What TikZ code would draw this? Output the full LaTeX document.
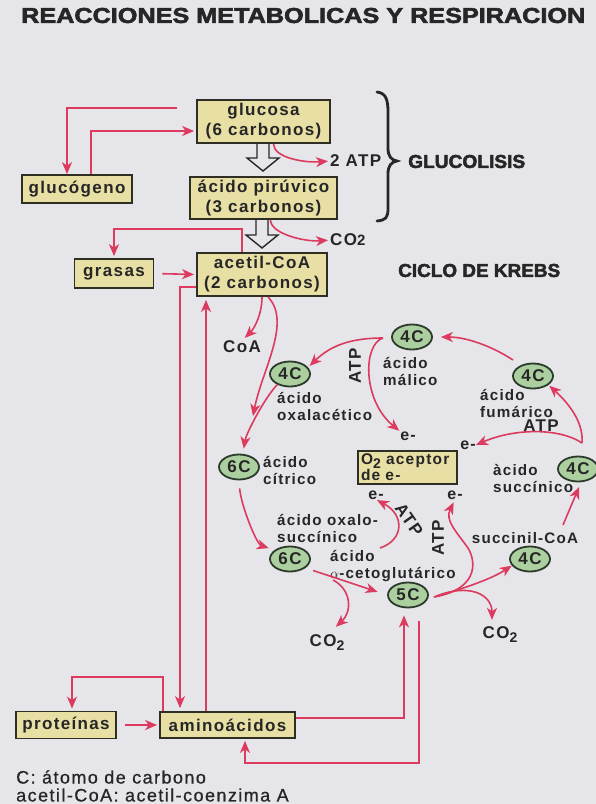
\documentclass[tikz,border=0pt]{standalone}
\usepackage{fontspec}
\setmainfont{Liberation Sans}
\newfontfamily\lab[LetterSpace=8]{Liberation Sans}
\newfontfamily\legendfont[LetterSpace=8,FakeBold=0.8]{Liberation Sans}
\newfontfamily\heavy[UprightFont={* Bold},FakeBold=2.5]{Liberation Sans}
\usetikzlibrary{shapes.geometric,arrows.meta,calc}
\definecolor{paper}{HTML}{E6E6EA}
\definecolor{ink}{HTML}{262626}
\definecolor{boxfill}{HTML}{E7DFA4}
\definecolor{boxline}{HTML}{2E2E24}
\definecolor{cellfill}{HTML}{ACCFA0}
\definecolor{cellline}{HTML}{2C3A2C}
\definecolor{flowred}{HTML}{DC3A5F}
\begin{document}
\begin{tikzpicture}[x=1pt,y=-1pt,
  box/.style={draw=boxline,line width=1.8pt,fill=boxfill,inner sep=0pt,text=ink,align=center,
    font=\lab\bfseries\fontsize{17}{20}\selectfont},
  cell/.style={ellipse,draw=cellline,line width=1.8pt,fill=cellfill,inner sep=0pt,
    minimum width=40pt,minimum height=25pt,text=ink,font=\lab\bfseries\fontsize{17}{17}\selectfont},
  lbl/.style={anchor=west,inner sep=0pt,align=left,text=ink,font=\lab\bfseries\fontsize{15.2}{17}\selectfont},
  txt/.style={inner sep=0pt,text=ink,font=\lab\bfseries\fontsize{17}{17}\selectfont},
  elec/.style={inner sep=0pt,text=ink,font=\lab\bfseries\fontsize{16}{16}\selectfont},
  heading/.style={inner sep=0pt,anchor=west,text=ink},
  legend/.style={inner sep=0pt,anchor=west,text=ink,font=\legendfont\fontsize{18}{19}\selectfont},
  flow/.style={draw=flowred,line width=1.6pt,-{Stealth[length=12pt,width=10pt,inset=3.5pt]}},
  hollow/.style={draw=ink,line width=1.4pt,fill=paper,line join=miter},
  brace/.style={draw=ink,line width=2.8pt,line cap=round},
]
\useasboundingbox (0,0) rectangle (596,804);
\fill[paper] (0,0) rectangle (596,804);

% hollow arrows of glycolysis (drawn first, the boxes cover their open ends)
\draw[hollow] (257,143) -- (257,158) -- (247,158) -- (263,171) -- (279,158) -- (269,158) -- (269,143);
\draw[hollow] (256,219) -- (256,235) -- (246,235) -- (262,248) -- (278,235) -- (268,235) -- (268,219);

% headings
\node[heading] (titulo) at (21,15.5) {\resizebox{564pt}{15pt}{\heavy REACCIONES METABOLICAS Y RESPIRACION}};
\node[heading] (glucolisis) at (408,161.5) {\resizebox{117pt}{13pt}{\heavy GLUCOLISIS}};
\node[heading] (krebs) at (398,270.5) {\resizebox{162pt}{13pt}{\heavy CICLO DE KREBS}};

% boxes
\node[box,minimum width=133pt,minimum height=43pt] (glucosa) at (263.5,121.5) {glucosa\\(6 carbonos)};
\node[box,minimum width=110pt,minimum height=28pt] (glucogeno) at (77,189) {glucógeno};
\node[box,minimum width=147pt,minimum height=42pt] (piruvico) at (263.5,198) {ácido pirúvico\\(3 carbonos)};
\node[box,minimum width=79pt,minimum height=29pt] (grasas) at (114,273.5) {grasas};
\node[box,minimum width=130pt,minimum height=43pt] (acetil) at (262,274.5) {acetil-CoA\\(2 carbonos)};
\node[box,minimum width=99pt,minimum height=33pt,text width=97pt,align=left,
  font=\lab\bfseries\fontsize{15.5}{14}\selectfont] (oxigeno) at (407.5,467.5)
  {\hspace*{2pt}O\raisebox{-4pt}{\fontsize{14}{14}\selectfont 2} aceptor\\\hspace*{2pt}de e-};
\node[box,minimum width=100pt,minimum height=27pt] (proteinas) at (66,725) {proteínas};
\node[box,minimum width=135pt,minimum height=26pt] (aminoacidos) at (227.5,725) {aminoácidos};

% carbon counts of the cycle
\node[cell] (oxal) at (290,374) {4C};
\node[cell] (malico) at (412,337) {4C};
\node[cell] (fumarico) at (533,376) {4C};
\node[cell] (succinico) at (578,469) {4C};
\node[cell] (succinil) at (530,559) {4C};
\node[cell] (ceto) at (408,595) {5C};
\node[cell] (oxalosuc) at (290,559) {6C};
\node[cell] (citrico) at (239,467) {6C};

% acid names
\node[lbl] (l-oxal) at (277,406.5) {ácido\\oxalacético};
\node[lbl] (l-malico) at (383,371) {ácido\\málico};
\node[lbl] (l-fumarico) at (480,403) {ácido\\fumárico};
\node[lbl] (l-succinico) at (493,478.5) {àcido\\succínico};
\node[lbl,anchor=center] (l-succinil) at (525,538) {succinil-CoA};
\node[lbl] (l-citrico) at (263,470.5) {ácido\\cítrico};
\node[lbl] (l-oxalosuc) at (277,528.5) {ácido oxalo-\\succínico};
\node[lbl] (l-ceto) at (330,566) {ácido\\$\alpha$-cetoglutárico};

% products
\node[txt,anchor=west] (atp1) at (330,161) {2 ATP};
\node[txt,anchor=west] (co2a) at (330,240) {CO{\fontsize{15}{15}\selectfont 2}};
\node[txt] (coa) at (242,347) {CoA};
\node[txt] (co2b) at (327,643) {CO\raisebox{-4pt}{\fontsize{14}{14}\selectfont 2}};
\node[txt] (co2c) at (500,635) {CO\raisebox{-4pt}{\fontsize{14}{14}\selectfont 2}};
\node[txt] (atp-fum) at (541,426) {ATP};
\node[txt,rotate=90] (atp-mal) at (355,366) {ATP};
\node[txt,rotate=90] (atp-ceto) at (438,538) {ATP};
\node[txt,rotate=-55] (atp-ox) at (409,520) {ATP};
\node[elec] (e-mal) at (408,436) {e-};
\node[elec] (e-fum) at (468,445) {e-};
\node[elec] (e-left) at (376,495) {e-};
\node[elec] (e-right) at (455,495) {e-};

% glucolisis brace
\draw[brace] (377,92) .. controls (386,93) and (388,100) .. (388,112) -- (388,148)
  .. controls (388,156) and (391,160) .. (397,161) .. controls (391,162) and (388,166) .. (388,174)
  -- (388,208) .. controls (388,218) and (386,220) .. (377,221);

% legend
\node[legend] (leyenda1) at (16,777) {C: átomo de carbono};
\node[legend] (leyenda2) at (16,795) {acetil-CoA: acetil-coenzima A};

% helper rows and joints
\coordinate (g1) at (177,108);
\coordinate (r131) at (0,131);
\coordinate (r229) at (0,229);
\coordinate (r287) at (0,287);
\coordinate (r677) at (0,677);
\coordinate (r718) at (0,718);
\coordinate (r763) at (0,763);
\coordinate (mj) at (383,338);
\coordinate (fj) at (513,360);
\coordinate (sj) at (582,443);
\coordinate (sc1) at (563,525);
\coordinate (kj) at (333,580);
\coordinate (aj) at (380,548);
\coordinate (cj) at (434,597);

% glycolysis and storage
\draw[flow] (g1) -| ([xshift=-10pt]glucogeno.north);
\draw[flow,shorten >=2pt] ([xshift=14pt]glucogeno.north) |- (glucosa.west |- r131);
\draw[flow,shorten >=2pt] ([xshift=10pt]glucosa.south) .. controls +(0,14) and +(-25,2) .. (atp1.west);
\draw[flow,shorten >=2pt] ([xshift=7pt]piruvico.south) .. controls +(0,14) and +(-25,2) .. (co2a.west);
\draw[flow,shorten >=2pt] ([xshift=-20pt]acetil.north) -- ([xshift=-20pt]acetil.north |- r229) -| (grasas.north);
\draw[flow,shorten <=8pt,shorten >=2pt] (grasas.east) -- (acetil.west);
\draw[flow,shorten >=3pt] (acetil.west |- r287) -| ([xshift=-47.5pt]aminoacidos.north);
\draw[flow,shorten >=3pt] ([xshift=-21.5pt]aminoacidos.north) -- ([xshift=-21.5pt]aminoacidos.north |- acetil.south);
\draw[flow,shorten >=2pt] ([xshift=-64.5pt]aminoacidos.north) -- ([xshift=-64.5pt]aminoacidos.north |- r677) -| ([xshift=6pt]proteinas.north);
\draw[flow,shorten <=8pt,shorten >=2pt] (proteinas.east) -- (aminoacidos.west);
\draw[flow,shorten >=7pt] (aminoacidos.east |- r718) -| ([xshift=-4pt]ceto.south);
\draw[flow,shorten <=13pt,shorten >=2pt] ([xshift=11pt]ceto.south) |- ([xshift=17.5pt]aminoacidos.south |- r763) -- ([xshift=17.5pt]aminoacidos.south);

% Krebs cycle
\draw[flow,shorten >=4pt] (acetil.south) .. controls +(0,18) and +(12,-12) .. (coa.north);
\draw[flow] ([xshift=6pt]acetil.south) .. controls (292,322) and (262,370) .. (253,416);
\draw[flow,shorten >=5pt] (oxal.220) .. controls +(-12,12) and +(3,-20) .. ([xshift=4pt]citrico.north);
\draw[flow,shorten >=2pt] (mj) .. controls (350,338) and (330,346) .. (oxal.20);
\draw[flow,shorten >=1pt] (mj) .. controls (363,344) and (362,400) .. (e-mal.north west);
\draw[flow,shorten >=8pt] (fj) .. controls (490,345) and (465,337) .. (malico.east);
\draw[flow,shorten >=1pt] (sj) .. controls (584,420) and (565,400) .. (fumarico.-30);
\draw[flow] (sj) .. controls (560,428) and (515,428) .. (e-fum.east);
\draw[flow,shorten >=5pt] (sc1) -- ([xshift=3pt]succinico.south);
\draw[flow,shorten <=6pt] (cj) .. controls (458,590) and (490,580) .. (succinil.200);
\draw[flow,shorten >=7pt] (cj) .. controls (470,582) and (492,595) .. ([xshift=-8pt]co2c.north);
\draw[flow,shorten >=3pt] (cj) .. controls (475,590) and (478,565) .. (468,548)
  .. controls (455,530) and (445,520) .. (e-right.south);
\draw[flow,shorten <=8pt,shorten >=10pt] (oxalosuc.-30) -- (ceto.west);
\draw[flow,shorten >=12pt] (kj) .. controls (352,590) and (352,612) .. (co2b.north);
\draw[flow,shorten <=8pt,shorten >=6pt] (citrico.south) .. controls +(2,25) and +(-18,-6) .. (oxalosuc.150);
\draw[flow,shorten >=1pt] (aj) .. controls (404,540) and (405,515) .. (e-left.south);
\end{tikzpicture}
\end{document}
